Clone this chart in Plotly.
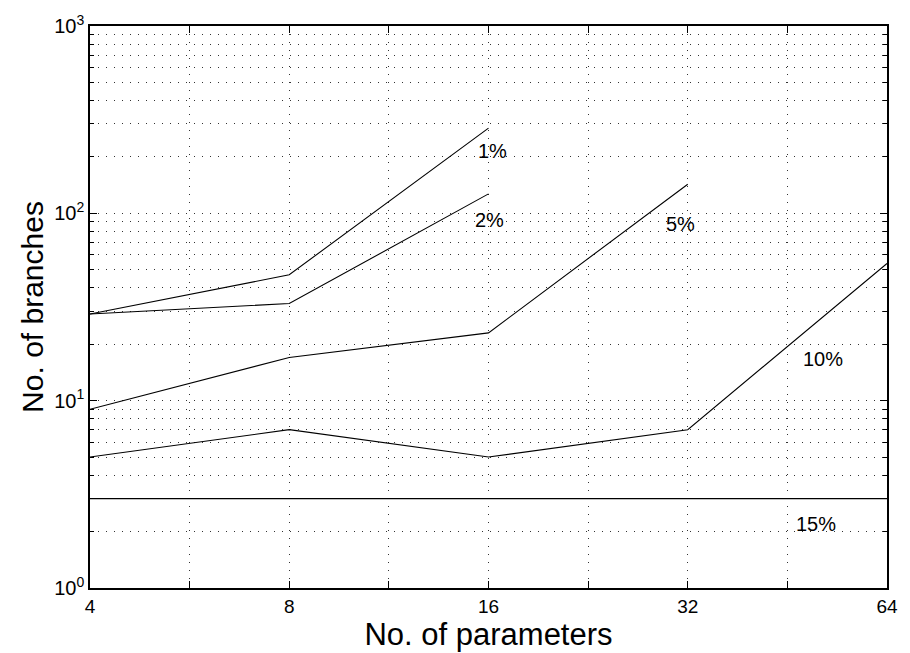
import numpy as np
import plotly.graph_objects as go

# ---- data ----
params = [4, 8, 16, 32, 64]
s1 = [29, 47, 285]            # 1%
s2 = [29, 33, 127]            # 2%
s5 = [9, 17, 23, 143]         # 5%
s10 = [5, 7, 5, 7, 54]        # 10%
s15 = [3, 3, 3, 3, 3]         # 15%
series_names = ["1%", "2%", "5%", "10%", "15%"]
series_vals = [s1, s2, s5, s10, s15]

# label anchor points (data coordinates: parameters, branches)
label_x = [16.2, 16.06, 31.25, 51.3, 50.0]
label_y = [216, 92, 88, 16.7, 2.19]

x_ticks = [4, 8, 16, 32, 64]
x_minor = [4 * 2 ** (k + 0.5) for k in range(4)]
y_major = [1, 10, 100, 1000]
y_major_text = ["10<sup>0</sup>", "10<sup>1</sup>", "10<sup>2</sup>", "10<sup>3</sup>"]
y_minor = [m * 10 ** e for e in range(3) for m in range(2, 10)]

fig = go.Figure()
for name, vals in zip(series_names, series_vals):
    fig.add_trace(go.Scatter(
        x=params[:len(vals)], y=vals, mode="lines", name=name,
        line=dict(color="black", width=1.1), showlegend=False,
    ))

for name, lx, ly in zip(series_names, label_x, label_y):
    fig.add_annotation(x=np.log10(lx), y=np.log10(ly), text=name, showarrow=False,
                       font=dict(size=20, color="black"))

grid_dash = "1px,7px"
grid_col = "#333"
fig.update_xaxes(
    type="log", range=[np.log10(4), np.log10(64)],
    tickvals=x_ticks, ticktext=[str(v) for v in x_ticks],
    ticks="inside", ticklen=7, tickcolor="black",
    showline=True, linecolor="black", linewidth=1.5, mirror="ticks",
    showgrid=True, gridcolor=grid_col, griddash=grid_dash, gridwidth=1,
    minor=dict(tickvals=x_minor, ticks="inside", ticklen=7, tickcolor="black",
               showgrid=True, gridcolor=grid_col, griddash=grid_dash, gridwidth=1),
    title=dict(text="No. of parameters", font=dict(size=31, color="black"), standoff=3),
    tickfont=dict(size=19, color="black"),
    ticklabeloverflow="allow",
    zeroline=False,
)
fig.update_yaxes(
    type="log", range=[0, 3],
    tickvals=y_major, ticktext=y_major_text,
    ticks="inside", ticklen=7, tickcolor="black",
    showline=True, linecolor="black", linewidth=1.5, mirror="ticks",
    showgrid=True, gridcolor=grid_col, griddash=grid_dash, gridwidth=1,
    minor=dict(tickvals=y_minor, ticks="inside", ticklen=4, tickcolor="black",
               showgrid=True, gridcolor=grid_col, griddash=grid_dash, gridwidth=1),
    title=dict(text="No. of branches", font=dict(size=30, color="black"), standoff=2),
    tickfont=dict(size=20, color="black"),
    zeroline=False,
)
fig.update_layout(
    width=910, height=653,
    margin=dict(l=90, r=17, t=24, b=61),
    paper_bgcolor="white", plot_bgcolor="white",
    font=dict(family="Liberation Sans, Arial, sans-serif", color="black"),
)
fig.write_html(
    "out.html",
    config={"displayModeBar": False},
    post_script="document.body.style.margin='0';document.body.style.overflow='hidden';",
)
